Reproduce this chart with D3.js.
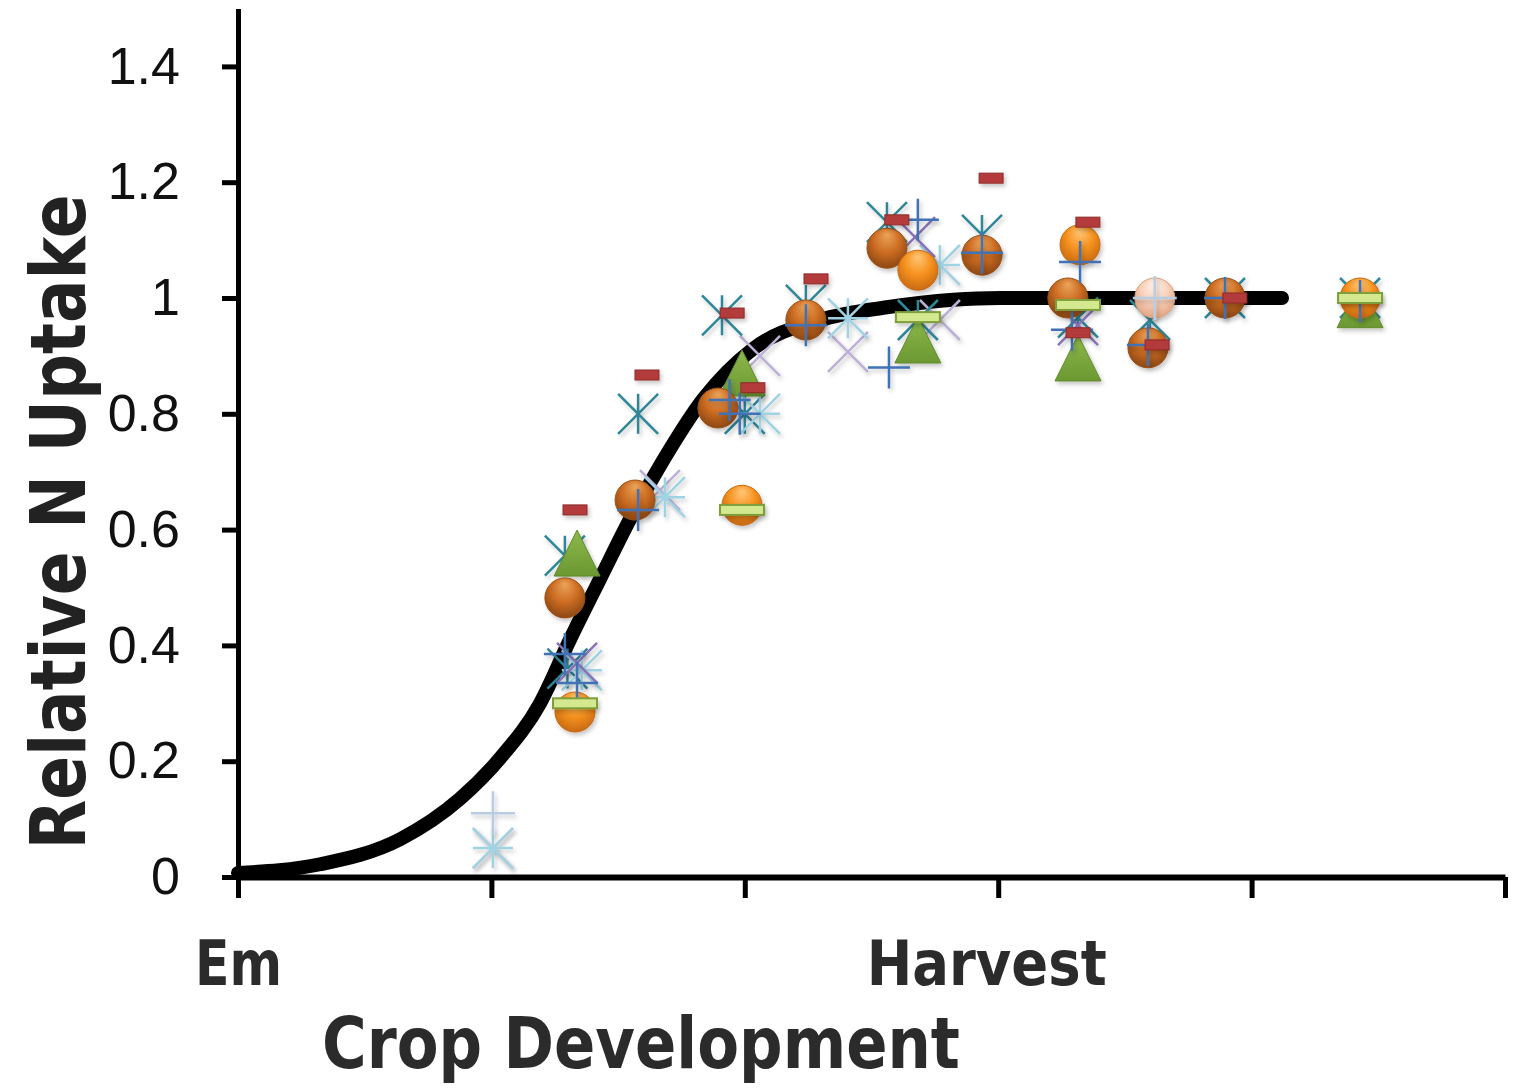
<!DOCTYPE html>
<html>
<head>
<meta charset="utf-8">
<script src="https://cdn.jsdelivr.net/npm/d3@7"></script>
<style>
  body { margin: 0; background: #fff; }
  svg { display: block; }
</style>
</head>
<body>
<div id="chart"></div>
<script>
// fitted uptake curve (x = development stage, y = relative N uptake)
const curveX = [0, 0.324, 0.639, 0.876, 1.034, 1.192, 1.31, 1.429, 1.559, 1.665, 1.835, 2.032, 2.297, 2.561, 2.822, 3.007, 4.12];
const curveY = [0.007, 0.022, 0.065, 0.135, 0.205, 0.30, 0.41, 0.515, 0.628, 0.71, 0.825, 0.912, 0.962, 0.984, 0.997, 1.0, 1.0];

// observations, one list per series: [stage, relative uptake]
const darkSphere = [[1.29, 0.482], [1.567, 0.651], [1.894, 0.81], [2.241, 0.962], [2.561, 1.086], [2.936, 1.074], [3.275, 1.0], [3.591, 0.914], [3.895, 1.0]];
const brightSphere = [[1.33, 0.285], [1.989, 0.642], [2.683, 1.048], [3.323, 1.092], [4.428, 1.0]];
const peachSphere = [[3.618, 1.0]];
const greenTriangle = [[1.338, 0.556], [1.989, 0.867], [2.683, 0.924], [3.315, 0.893], [4.428, 0.985]];
const redDash = [[1.33, 0.634], [1.614, 0.867], [1.95, 0.974], [2.032, 0.845], [2.281, 1.033], [2.6, 1.135], [2.972, 1.207], [3.354, 1.131], [3.315, 0.94], [3.627, 0.919], [3.934, 1.0]];
const greenDash = [[1.33, 0.30], [1.989, 0.634], [2.683, 0.967], [3.315, 0.988], [4.428, 1.0]];
const bluePlus = [[1.29, 0.385], [1.338, 0.335], [1.579, 0.634], [1.94, 0.824], [1.98, 0.80], [2.241, 0.953], [2.569, 0.88], [2.683, 1.135], [2.936, 1.078], [3.323, 1.062], [3.291, 0.945], [3.591, 0.919], [3.895, 1.0], [4.428, 0.995]];
const tealStar = [[1.29, 0.555], [1.30, 0.36], [1.579, 0.80], [1.91, 0.97], [2.0, 0.80], [2.241, 0.988], [2.561, 1.131], [2.683, 0.962], [2.936, 1.109], [3.315, 0.966], [3.599, 0.962], [3.895, 1.0], [4.428, 1.0]];
const purpleX = [[1.338, 0.37], [2.672, 1.105], [3.315, 0.953]];
const lavenderX = [[1.006, 0.05], [1.665, 0.668], [2.06, 0.90], [2.407, 0.907], [2.77, 0.962]];
const lightStar = [[1.006, 0.05], [1.357, 0.357], [1.685, 0.656], [2.06, 0.80], [2.407, 0.965], [2.77, 1.057]];
const lightPlus = [[1.006, 0.11], [3.618, 1.0]];

const yTicks = [0, 0.2, 0.4, 0.6, 0.8, 1, 1.2, 1.4];
const xTicks = [0, 1, 2, 3, 4, 5];
const xTickLabels = ["Em", "", "", "Harvest", "", ""];

const width = 1517, height = 1090;

const svg = d3.select("#chart").append("svg")
  .attr("width", width)
  .attr("height", height);

const x = d3.scaleLinear().domain([0, 5]).range([238, 1505]);
const y = d3.scaleLinear().domain([0, 1.5]).range([877, 8.5]);

const defs = svg.append("defs");

function sphereGrad(id, light, mid, dark) {
  const g = defs.append("radialGradient").attr("id", id)
    .attr("cx", "50%").attr("cy", "40%").attr("r", "60%")
    .attr("fx", "50%").attr("fy", "15%");
  g.append("stop").attr("offset", "0%").attr("stop-color", light);
  g.append("stop").attr("offset", "55%").attr("stop-color", mid);
  g.append("stop").attr("offset", "100%").attr("stop-color", dark);
}
sphereGrad("gDark", "#eba45a", "#cc6c22", "#8e4814");
sphereGrad("gBright", "#ffc778", "#f6921f", "#c96a12");
sphereGrad("gPeach", "#fff3ec", "#f8d2bc", "#e3a583");

const triGrad = defs.append("linearGradient").attr("id", "gTri")
  .attr("x1", 0).attr("y1", 0).attr("x2", 0).attr("y2", 1);
triGrad.append("stop").attr("offset", "0%").attr("stop-color", "#8cb84c");
triGrad.append("stop").attr("offset", "100%").attr("stop-color", "#6c9832");

const shadow = defs.append("filter").attr("id", "shadow")
  .attr("x", "-50%").attr("y", "-50%").attr("width", "200%").attr("height", "200%");
shadow.append("feDropShadow").attr("dx", 2).attr("dy", 3)
  .attr("stdDeviation", 2).attr("flood-color", "#000").attr("flood-opacity", 0.22);

// axes
const yAxis = svg.append("g")
  .attr("transform", `translate(${x(0)},0)`)
  .call(d3.axisLeft(y).tickValues(yTicks).tickSize(16).tickSizeOuter(0).tickPadding(42)
    .tickFormat(d => +d.toFixed(1)));
yAxis.select(".domain").attr("stroke", "#000").attr("stroke-width", 5);
yAxis.selectAll(".tick line").attr("stroke", "#000").attr("stroke-width", 5);
yAxis.selectAll(".tick text")
  .attr("fill", "#111")
  .style("font-family", "'Liberation Sans', Arial, sans-serif")
  .style("font-size", "52px");

const xAxis = svg.append("g")
  .attr("transform", `translate(0,${y(0)})`)
  .call(d3.axisBottom(x).tickValues(xTicks).tickSize(21).tickSizeOuter(0).tickPadding(43)
    .tickFormat((d, i) => xTickLabels[i]));
xAxis.select(".domain").attr("stroke", "#000").attr("stroke-width", 6);
xAxis.selectAll(".tick line").attr("stroke", "#000").attr("stroke-width", 5);
xAxis.selectAll(".tick text")
  .attr("fill", "#2b2b2b")
  .attr("dx", d => d === 3 ? -12 : 0)
  .style("font-family", "'DejaVu Sans', sans-serif")
  .style("font-weight", "bold")
  .style("font-size", "62px")
  .attr("textLength", d => d === 0 ? 87 : (d === 3 ? 240 : null))
  .attr("lengthAdjust", "spacingAndGlyphs");

// axis titles
svg.append("text")
  .attr("transform", "translate(85,522) rotate(-90)")
  .attr("text-anchor", "middle")
  .attr("fill", "#222")
  .style("font-family", "'DejaVu Sans', sans-serif")
  .style("font-weight", "bold")
  .style("font-size", "76px")
  .attr("textLength", 655)
  .attr("lengthAdjust", "spacingAndGlyphs")
  .text("Relative N Uptake");

svg.append("text")
  .attr("x", 322).attr("y", 1068)
  .attr("fill", "#2b2b2b")
  .style("font-family", "'DejaVu Sans', sans-serif")
  .style("font-weight", "bold")
  .style("font-size", "72px")
  .attr("textLength", 638)
  .attr("lengthAdjust", "spacingAndGlyphs")
  .text("Crop Development");

// fitted curve
const line = d3.line()
  .x(d => x(d[0]))
  .y(d => y(d[1]))
  .curve(d3.curveMonotoneX);

svg.append("path")
  .datum(curveX.map((v, i) => [v, curveY[i]]))
  .attr("d", line)
  .attr("fill", "none")
  .attr("stroke", "#000")
  .attr("stroke-width", 14)
  .attr("stroke-linecap", "round");

// marker shapes
const plusPath = h => `M${-h},0H${h}M0,${-h}V${h}`;
const xPath = h => `M${-h},${-h}L${h},${h}M${-h},${h}L${h},${-h}`;
const astPath = h => xPath(h) + `M0,${-h}V${h}`;
const starPath = h => astPath(h) + `M${-h},0H${h}`;

function strokeMarks(data, path, color, w) {
  svg.append("g").attr("filter", "url(#shadow)")
    .selectAll("path").data(data).join("path")
    .attr("transform", d => `translate(${x(d[0])},${y(d[1])})`)
    .attr("d", path)
    .attr("fill", "none")
    .attr("stroke", color)
    .attr("stroke-width", w);
}

function spheres(data, grad, rim) {
  svg.append("g").attr("filter", "url(#shadow)")
    .selectAll("circle").data(data).join("circle")
    .attr("cx", d => x(d[0]))
    .attr("cy", d => y(d[1]))
    .attr("r", 20)
    .attr("fill", `url(#${grad})`)
    .attr("stroke", rim)
    .attr("stroke-width", 1);
}

strokeMarks(lavenderX, xPath(20), "#bdb0d8", 2.5);
strokeMarks(tealStar, astPath(20), "#2f8798", 2.5);
strokeMarks(lightStar, starPath(20), "#9fd2e3", 2.5);
strokeMarks(purpleX, xPath(20), "#8a72b8", 2.5);

svg.append("g").attr("filter", "url(#shadow)")
  .selectAll("path").data(greenTriangle).join("path")
  .attr("transform", d => `translate(${x(d[0])},${y(d[1])})`)
  .attr("d", "M0,-25L23,21L-23,21Z")
  .attr("fill", "url(#gTri)")
  .attr("stroke", "#5f8a2a")
  .attr("stroke-width", 1);

spheres(darkSphere, "gDark", "#9a5218");
spheres(brightSphere, "gBright", "#c96a12");
spheres(peachSphere, "gPeach", "#dca080");

strokeMarks(lightPlus, plusPath(22), "#b8cde4", 2.5);
strokeMarks(bluePlus, plusPath(21), "#3f72b5", 2.5);

svg.append("g").attr("filter", "url(#shadow)")
  .selectAll("rect").data(greenDash).join("rect")
  .attr("x", d => x(d[0]) - 22)
  .attr("y", d => y(d[1]) - 5)
  .attr("width", 44).attr("height", 10)
  .attr("fill", "#d3e88f")
  .attr("stroke", "#7e9d3a")
  .attr("stroke-width", 2);

svg.append("g").attr("filter", "url(#shadow)")
  .selectAll("rect").data(redDash).join("rect")
  .attr("x", d => x(d[0]) - 12)
  .attr("y", d => y(d[1]) - 5)
  .attr("width", 24).attr("height", 10)
  .attr("fill", "#b33b3b")
  .attr("stroke", "#8e2a2a")
  .attr("stroke-width", 1);
</script>
</body>
</html>
